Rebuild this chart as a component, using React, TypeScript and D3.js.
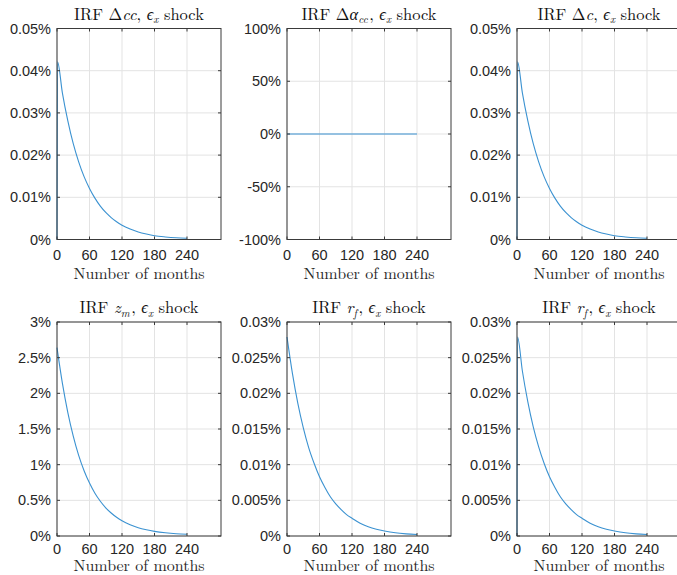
import React from "react";
import * as d3 from "d3";

// x values (months) and IRF values (in %)
const monthsJump = [0, 1, 10, 20, 30, 40, 50, 60, 70, 80, 90, 100, 110, 120, 135, 150, 165, 180, 200, 220, 240];
const monthsSmooth = [0, 10, 20, 30, 40, 50, 60, 70, 80, 90, 100, 110, 120, 135, 150, 165, 180, 200, 220, 240];
const monthsFlat = [0, 240];

const dccIrf = [0, 0.0421, 0.0347, 0.0281, 0.0227, 0.0184, 0.0149, 0.0121, 0.0098, 0.0079, 0.0064, 0.0052, 0.0042, 0.0034, 0.0025, 0.0018, 0.0013, 0.0009, 0.0006, 0.0004, 0.0003];
const dalphaIrf = [0, 0];
const dcIrf = [0, 0.0421, 0.0347, 0.0281, 0.0227, 0.0184, 0.0149, 0.0121, 0.0098, 0.0079, 0.0064, 0.0052, 0.0042, 0.0034, 0.0025, 0.0018, 0.0013, 0.0009, 0.0006, 0.0004, 0.0003];
const zmIrf = [2.64, 2.14, 1.73, 1.4, 1.13, 0.915, 0.742, 0.6, 0.487, 0.395, 0.322, 0.262, 0.214, 0.158, 0.116, 0.087, 0.065, 0.045, 0.032, 0.025];
const rfIrf = [0.0279, 0.0228, 0.0186, 0.0152, 0.0124, 0.0102, 0.0083, 0.0068, 0.0055, 0.0045, 0.0037, 0.003, 0.0025, 0.0018, 0.0013, 0.00095, 0.0007, 0.00045, 0.0003, 0.0002];
const rfIrfJump = [0, 0.0279, 0.0231, 0.0188, 0.0153, 0.0125, 0.0102, 0.0083, 0.0068, 0.0055, 0.0045, 0.0037, 0.003, 0.0025, 0.0018, 0.0013, 0.00095, 0.0007, 0.00045, 0.0003, 0.0002];

const monthTicks = [0, 60, 120, 180, 240];
const smallTicks = [0, 0.01, 0.02, 0.03, 0.04, 0.05];
const smallLabels = ["0%", "0.01%", "0.02%", "0.03%", "0.04%", "0.05%"];
const wideTicks = [-100, -50, 0, 50, 100];
const wideLabels = ["-100%", "-50%", "0%", "50%", "100%"];
const zmTicks = [0, 0.5, 1, 1.5, 2, 2.5, 3];
const zmLabels = ["0%", "0.5%", "1%", "1.5%", "2%", "2.5%", "3%"];
const rfTicks = [0, 0.005, 0.01, 0.015, 0.02, 0.025, 0.03];
const rfLabels = ["0%", "0.005%", "0.01%", "0.015%", "0.02%", "0.025%", "0.03%"];

const W = 677;
const H = 575;
const axW = 164;
const lefts = [57, 287, 517];
const rows = [
  { top: 28.5, bottom: 239.5, tick: 20, xlab: 39 },
  { top: 322, bottom: 536, tick: 17.5, xlab: 35 },
];

const blue = "#3b92d1";
const axisColor = "#3a3a3a";
const gridColor = "#e3e3e3";
const textColor = "#262626";
const sansFont = "'Liberation Sans', Arial, Helvetica, sans-serif";
const serifFont = "'Latin Modern Roman', 'CMU Serif', 'Liberation Serif', 'Times New Roman', serif";
const SUB = 3.5;

// ", ϵ_x shock"; shift undoes a subscript that came just before
const shock = (shift: number) => (
  <>
    <tspan dy={shift} dx={shift ? 1.5 : 0}>, </tspan>
    <tspan fontStyle="italic">{"\u03F5"}</tspan>
    <tspan fontStyle="italic" fontSize={11} dy={SUB}>x</tspan>
    <tspan dy={-SUB}> shock</tspan>
  </>
);

const panels = [
  {
    title: <>IRF Δ<tspan fontStyle="italic">cc</tspan>{shock(0)}</>,
    months: monthsJump, values: dccIrf, domain: [0, 0.05], ticks: smallTicks, labels: smallLabels,
  },
  {
    title: <>IRF Δ<tspan fontStyle="italic">α</tspan><tspan fontStyle="italic" fontSize={11} dy={SUB}>cc</tspan>{shock(-SUB)}</>,
    months: monthsFlat, values: dalphaIrf, domain: [-100, 100], ticks: wideTicks, labels: wideLabels,
  },
  {
    title: <>IRF Δ<tspan fontStyle="italic">c</tspan>{shock(0)}</>,
    months: monthsJump, values: dcIrf, domain: [0, 0.05], ticks: smallTicks, labels: smallLabels,
  },
  {
    title: <>IRF <tspan fontStyle="italic">z</tspan><tspan fontStyle="italic" fontSize={11} dy={SUB}>m</tspan>{shock(-SUB)}</>,
    months: monthsSmooth, values: zmIrf, domain: [0, 3], ticks: zmTicks, labels: zmLabels,
  },
  {
    title: <>IRF <tspan fontStyle="italic">r</tspan><tspan fontStyle="italic" fontSize={11} dy={SUB}>f</tspan>{shock(-SUB)}</>,
    months: monthsSmooth, values: rfIrf, domain: [0, 0.03], ticks: rfTicks, labels: rfLabels,
  },
  {
    title: <>IRF <tspan fontStyle="italic">r</tspan><tspan fontStyle="italic" fontSize={11} dy={SUB}>f</tspan>{shock(-SUB)}</>,
    months: monthsJump, values: rfIrfJump, domain: [0, 0.03], ticks: rfTicks, labels: rfLabels,
  },
];

function Panel({ p, i }: { p: any; i: number }) {
  const left = lefts[i % 3];
  const { top, bottom, tick, xlab } = rows[Math.floor(i / 3)];
  const right = left + axW;
  const x = d3.scaleLinear().domain([0, (240 * axW) / 130]).range([left, right]);
  const y = d3.scaleLinear().domain(p.domain).range([bottom, top]);
  const line = d3
    .line<number>()
    .x((_, k) => x(p.months[k]))
    .y((d) => y(d))
    .curve(d3.curveMonotoneX);
  const tl = 3;
  const cx = (left + right) / 2;
  return (
    <g>
      {/* grid */}
      {monthTicks.map((t) => (
        <line key={"gx" + t} x1={x(t)} x2={x(t)} y1={top} y2={bottom} stroke={gridColor} strokeWidth={1} />
      ))}
      {p.ticks.map((t: number) => (
        <line key={"gy" + t} x1={left} x2={right} y1={y(t)} y2={y(t)} stroke={gridColor} strokeWidth={1} />
      ))}
      {/* series */}
      <path d={line(p.values) || ""} fill="none" stroke={blue} strokeWidth={1.1} />
      {/* box */}
      <rect x={left} y={top} width={axW} height={bottom - top} fill="none" stroke={axisColor} strokeWidth={1} />
      {/* ticks inward */}
      {monthTicks.map((t) => (
        <g key={"tx" + t}>
          <line x1={x(t)} x2={x(t)} y1={bottom} y2={bottom - tl} stroke={axisColor} />
          <line x1={x(t)} x2={x(t)} y1={top} y2={top + tl} stroke={axisColor} />
          <text x={x(t)} y={bottom + tick} textAnchor="middle" fontFamily={sansFont} fontSize={14.5} fill={textColor}>
            {t}
          </text>
        </g>
      ))}
      {p.ticks.map((t: number, k: number) => (
        <g key={"ty" + t}>
          <line x1={left} x2={left + tl} y1={y(t)} y2={y(t)} stroke={axisColor} />
          <line x1={right} x2={right - tl} y1={y(t)} y2={y(t)} stroke={axisColor} />
          <text x={left - 6} y={y(t) + 5} textAnchor="end" fontFamily={sansFont} fontSize={14.5} fill={textColor}>
            {p.labels[k]}
          </text>
        </g>
      ))}
      <text x={cx} y={bottom + xlab} textAnchor="middle" fontFamily={serifFont} fontSize={16} fill={textColor}>
        Number of months
      </text>
      <text x={cx} y={top - 9} textAnchor="middle" fontFamily={serifFont} fontSize={16.5} fill="#111">
        {p.title}
      </text>
    </g>
  );
}

export default function App() {
  return (
    <svg width={W} height={H} style={{ display: "block", position: "absolute", left: 0, top: 0, background: "#fff" }}>
      <rect width={W} height={H} fill="#fff" />
      {panels.map((p, i) => (
        <Panel key={i} p={p} i={i} />
      ))}
    </svg>
  );
}
